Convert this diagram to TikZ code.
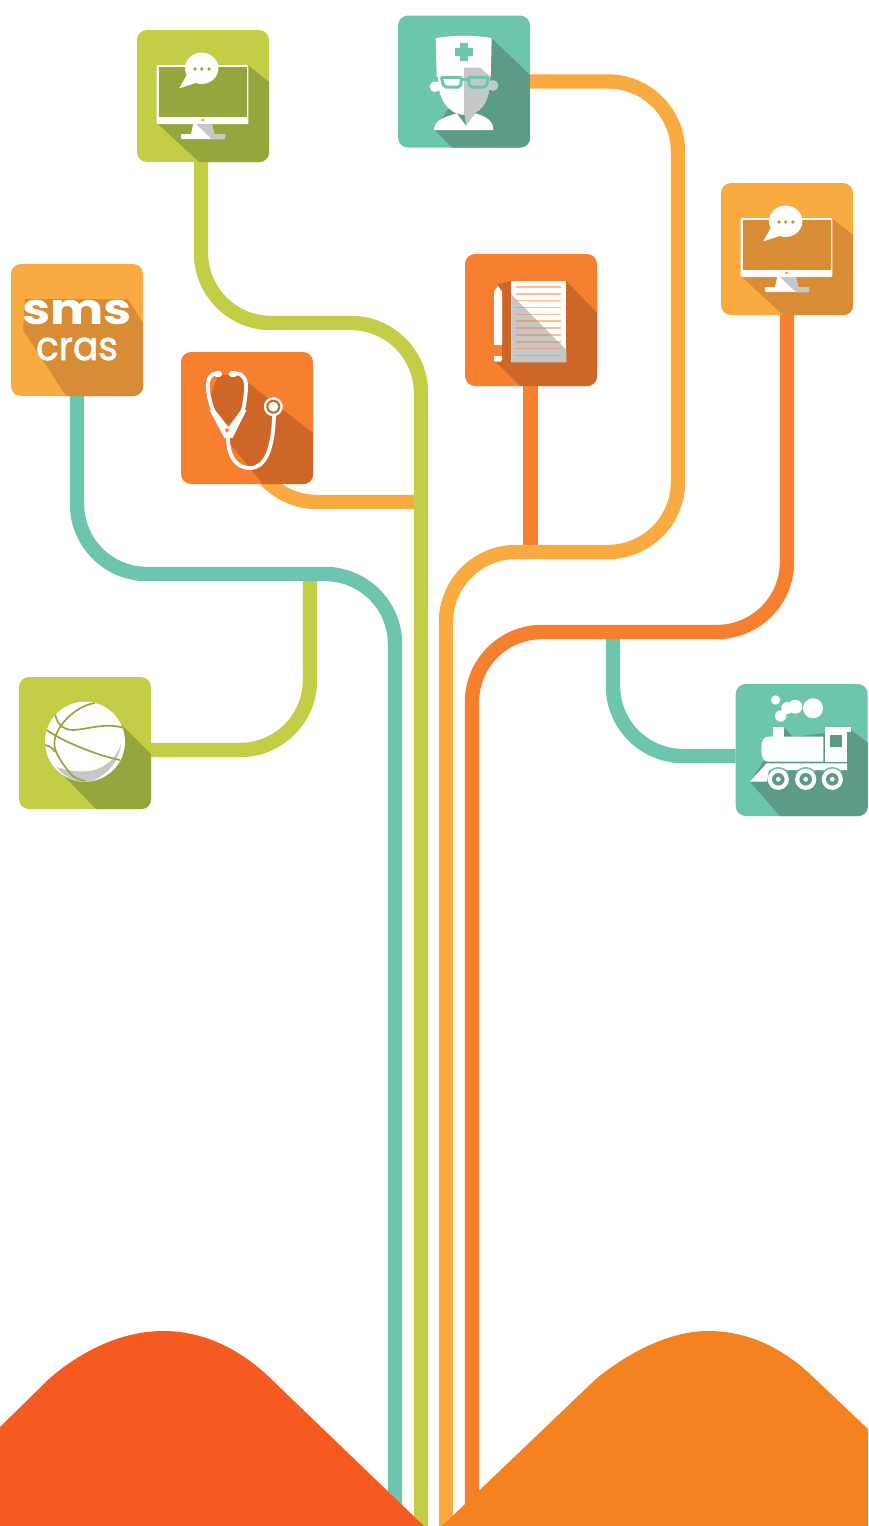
\documentclass[tikz,border=0pt]{standalone}
\usepackage{fontspec}
\usepackage{tikz}
\usetikzlibrary{backgrounds}
\newfontfamily\smsfont{Poppins}
\newfontfamily\crasfont[FakeBold=1.6]{Poppins}
\definecolor{mint}{RGB}{110,197,174}
\definecolor{mintdark}{RGB}{92,155,135}
\definecolor{lime}{RGB}{196,205,70}
\definecolor{limedark}{RGB}{148,166,60}
\definecolor{amber}{RGB}{249,170,64}
\definecolor{amberdark}{RGB}{215,140,53}
\definecolor{tangerine}{RGB}{246,128,48}
\definecolor{tangerinedark}{RGB}{205,102,38}
\definecolor{hillred}{RGB}{245,91,33}
\definecolor{hillorange}{RGB}{245,130,32}
\definecolor{iconshade}{RGB}{198,199,200}
\newcommand{\castshade}[3]{\begin{scope}
  \clip[rounded corners=10pt] (#1.north west) rectangle (#1.south east);
  \fill[#2] #3 -- cycle;
\end{scope}}
\newcommand{\chatmonitor}[2]{\begin{scope}[shift={(#1.center)}]
  \fill[white, rounded corners=1pt] (-46.3,-31) rectangle (45.3,28);
  \fill[#2] (-44.3,-28.7) rectangle (43.7,20.7);
  \fill[#2] (-0.3,24) circle (1.3);
  \fill[white] (-9.7,28) -- (8.7,28) -- (11.3,38) -- (-12,38) -- cycle;
  \fill[iconshade] (-7,28) -- (8.7,28) -- (11.3,38) -- (3.5,38) -- cycle;
  \fill[white, rounded corners=0.8pt] (-22,38) rectangle (22,43);
  \fill[iconshade] (3.5,38) -- (22,38) -- (22,43) -- (8.5,43) -- cycle;
  \fill[white] (-1.3,-27.7) ellipse (16.7 and 15.7);
  \fill[white] (-16.3,-21) -- (-23.7,-7.7) -- (-6.3,-13.3) -- cycle;
  \foreach \dotx in {-8,-1.3,6} \fill[#2] (\dotx,-27) circle (1.8);
\end{scope}}
\begin{document}
\begin{tikzpicture}[
  x=1pt, y=-1pt,
  tile/.style={rectangle, rounded corners=10pt, minimum size=132pt, inner sep=0pt},
  pipe/.style={line width=14.4pt, rounded corners=70pt},
  logo/.style={inner sep=0pt, text=white, anchor=base},
  tube/.style={draw=white, line width=3.8pt, line cap=round},
  seam/.style={draw=limedark, line width=1.7pt},
  sheetline/.style={draw=tangerine, opacity=0.5, line width=1.3pt}
]
\useasboundingbox (0,0) rectangle (868,1526);

\node[tile, fill=lime] (tileChat) at (203,96) {};
\node[tile, fill=mint] (tileDoctor) at (464,81.5) {};
\node[tile, fill=amber] (tileScreen) at (787,249) {};
\node[tile, fill=tangerine] (tileSheet) at (531,320) {};
\node[tile, fill=amber] (tileSms) at (77,330) {};
\node[tile, fill=tangerine] (tileSteth) at (247,418) {};
\node[tile, fill=lime] (tileBall) at (85,743) {};
\node[tile, fill=mint] (tileTrain) at (801.7,750) {};

\coordinate (footMint) at (395,1526);
\coordinate (footLime) at (421,1526);
\coordinate (footAmber) at (446,1526);
\coordinate (footTangerine) at (472,1526);
\coordinate (joinSteth) at (421,502);
\coordinate (joinBall) at (310,574);
\coordinate (joinSheet) at (530.5,552);
\coordinate (joinTrain) at (613,632);

\begin{pgfonlayer}{background}
\draw[pipe, draw=amber] (tileSteth.center) -- (247,502) -- (joinSteth);
\draw[pipe, draw=lime] ([yshift=-7pt]tileBall.east) -- (310,750) -- (joinBall);
\draw[pipe, draw=tangerine] ([xshift=-0.5pt]tileSheet.south) -- (joinSheet);
\draw[pipe, draw=mint] ([yshift=-6pt]tileTrain.west) -- (613,756) -- (joinTrain);
\draw[pipe, draw=lime] ([xshift=-2pt]tileChat.south) -- (201,323) -- (421,323) -- (footLime);
\draw[pipe, draw=mint] (tileSms.south) -- (77,574) -- (395,574) -- (footMint);
\draw[pipe, draw=amber] (tileDoctor.east) -- (678,81.5) -- (678,552) -- (446,552) -- (footAmber);
\draw[pipe, draw=tangerine] (tileScreen.south) -- (787,632) -- (472,632) -- (footTangerine);
\end{pgfonlayer}

\castshade{tileChat}{limedark}{(158,124) -- (248,65) -- (269,82) -- (269,162) -- (199,162)}
\chatmonitor{tileChat}{limedark}
\castshade{tileScreen}{amberdark}{(742,277) -- (832,218) -- (853,235) -- (853,315) -- (783,315)}
\chatmonitor{tileScreen}{amberdark}

\castshade{tileDoctor}{mintdark}{(435,130) -- (491.7,38.3) -- (530,75) -- (530,148) -- (452,148)}
\fill[white] (435.7,38.3) .. controls (450,35) and (478,35) .. (491.7,38.3) -- (490.7,76.7) -- (436.7,76.7) -- cycle;
\fill[white] (435,86.7) circle (5.4);
\fill[iconshade] (493,85.5) circle (5.4);
\fill[white] (438,76) .. controls (437,103) and (452,115) .. (465,115) .. controls (479,115) and (491,103) .. (490,76) -- cycle;
\fill[iconshade] (464,67.7) -- (480,67.7) -- (490.7,76.7) -- (490,76) .. controls (491,103) and (479,115) .. (465,115) -- (464,115) -- cycle;
\fill[white] (434,130) .. controls (434,120) and (445,117) .. (456.7,113.3) -- (466,125.7) -- (475,113.3) .. controls (485,116) and (493.3,120) .. (493.3,130) -- cycle;
\fill[iconshade] (464.5,113) -- (466,125.7) -- (475,113.3) -- cycle;
\fill[mint] (455,48) rectangle (472.7,55.7);
\fill[mint] (460,43) rectangle (467.7,60.7);
\draw[mint, line width=3pt, fill=white, rounded corners=2pt] (441.2,77.3) -- (461.7,77.3) -- (460.5,87) -- (444,87) -- cycle;
\draw[mint, line width=3pt, fill=iconshade, rounded corners=2pt] (468.3,77.3) -- (488.6,77.3) -- (486,87) -- (469.5,87) -- cycle;
\draw[mint, line width=3pt] (461.7,79.5) -- (468.3,79.5);

\castshade{tileSheet}{tangerinedark}{(498,284) -- (511,281) -- (566.3,281) -- (597,313) -- (597,386) -- (520,386) -- (494,360)}
\fill[tangerine] (494,345) rectangle (502,357);
\fill[white] (494,291.7) -- (498,285.7) -- (502,291.7) -- (502,345) -- (494,345) -- cycle;
\fill[white, rounded corners=1.5pt] (494,356.5) rectangle (502,361.7);
\fill[white] (494,356) rectangle (502,358);
\fill[white] (511.3,281) rectangle (566.3,362.3);
\fill[iconshade] (511.3,294.3) -- (566.3,350) -- (566.3,362.3) -- (511.3,362.3) -- cycle;
\foreach \liney in {287,294,300.7,307.3,314.3,321,328,335,342,348.7,355.7}
  \draw[sheetline] (515.7,\liney) -- (561.3,\liney);

\castshade{tileSms}{amberdark}{(23,330) -- (25,299) -- (128,299) -- (143,323) -- (143,396) -- (66,396)}
\node[logo, font=\smsfont\bfseries\fontsize{43}{43}\selectfont] (smsWord) at (77,324) {\scalebox{1.17}[1]{sms}};
\node[logo, font=\crasfont\fontsize{40}{40}\selectfont] (crasWord) at (77,360) {\scalebox{0.94}[1]{cras}};

\castshade{tileSteth}{tangerinedark}{(218,375) -- (238,375) -- (313,433) -- (313,484) -- (263,484) -- (225,438) -- (216,415) -- (211,395)}
\draw[tube] (217,373.5) .. controls (210,373) and (207,380) .. (208,390) .. controls (209,400) and (212,408) .. (214,413);
\draw[tube] (236,373.5) .. controls (243,373) and (247,380) .. (246,390) .. controls (245,400) and (244,408) .. (242,413);
\draw[tube, line width=5.2pt] (216.5,374) -- (219.5,374);
\draw[tube, line width=5.2pt] (234.5,374) -- (231.5,374);
\fill[white] (209.5,410) -- (215,410) -- (228.5,427) -- (241,410) -- (246.5,410) -- (232.5,438) -- (224.5,438) -- cycle;
\fill[tangerine] (224.5,428.5) -- (229.5,428.5) -- (227,433) -- cycle;
\draw[tube] (228,437) .. controls (228,455) and (235,468) .. (250,468) .. controls (265,468) and (273,450) .. (274,416);
\fill[white] (273.3,406.7) circle (9.5);
\fill[tangerinedark] (273.3,406.7) circle (7);
\fill[white] (273.3,406.7) circle (5);

\castshade{tileBall}{limedark}{(60,772) -- (117,720) -- (151,754) -- (151,809) -- (96,809)}
\fill[white] (85,741.7) circle (40);
\fill[iconshade] (57,767) .. controls (80,775) and (110,775) .. (121,744) .. controls (119,765) and (100,781.7) .. (85,781.7) .. controls (72,781.7) and (62,775) .. (57,767) -- cycle;
\begin{scope}
\clip (85,741.7) circle (40);
\draw[seam] (95,703) .. controls (80,705) and (60,720) .. (55,738) .. controls (52,750) and (60,760) .. (70,773.3) .. controls (74,778) and (80,780) .. (85,781);
\draw[seam] (55,713) .. controls (56,722) and (62,730) .. (73,730) .. controls (85,730) and (105,722) .. (124,728);
\draw[seam] (46.7,730) .. controls (60,740) and (95,755) .. (120,760);
\draw[seam] (45,745) .. controls (50,746) and (53,748) .. (55,752);
\end{scope}

\castshade{tileTrain}{mintdark}{(750,782) -- (785,728) -- (793,737) -- (851,730) -- (868,743) -- (868,816) -- (780,816)}
\foreach \puffx/\puffy/\puffr in {775.7/700/4.7,780.7/716/5.7,787.3/708/6,795.3/706.7/7,813/708.3/10}
  \fill[white] (\puffx,\puffy) circle (\puffr);
\fill[white] (773,727.3) rectangle (784,737);
\fill[white] (761.3,749.2) .. controls (761.3,742) and (763,736.7) .. (768,736.7) -- (823.3,736.7) -- (823.3,761.7) -- (768,761.7) .. controls (763,761.7) and (761.3,756) .. (761.3,749.2) -- cycle;
\fill[white] (825.3,727.3) rectangle (847.3,761.7);
\fill[white] (824.7,727.3) rectangle (851.3,732);
\fill[mintdark] (829.7,735) rectangle (842.3,746.7);
\fill[white] (749.7,781.7) -- (766.7,763.3) -- (847,763.3) -- (847,770) -- (769,770) -- (767,781.7) -- cycle;
\foreach \wheelx in {778.3,805.7,832.3} {
  \begin{scope}
  \clip (745,763) rectangle (850,771);
  \fill[mint] (\wheelx,779.3) circle (12.4);
  \end{scope}
  \fill[white] (\wheelx,779.3) circle (10.6);
  \fill[mintdark] (\wheelx,779.3) circle (6.3);
  \fill[white] (\wheelx,779.3) circle (2.4);
}

\fill[hillred] (0,1427) -- (50,1378) .. controls (85,1348) and (125,1331) .. (163,1331) .. controls (205,1331) and (240,1350) .. (268,1376) -- (424,1526) -- (0,1526) -- cycle;
\fill[hillorange] (442,1526) -- (597,1378) .. controls (632,1350) and (672,1331) .. (708,1331) .. controls (750,1331) and (785,1350) .. (812,1376) -- (868,1429) -- (868,1526) -- cycle;
\end{tikzpicture}
\end{document}
